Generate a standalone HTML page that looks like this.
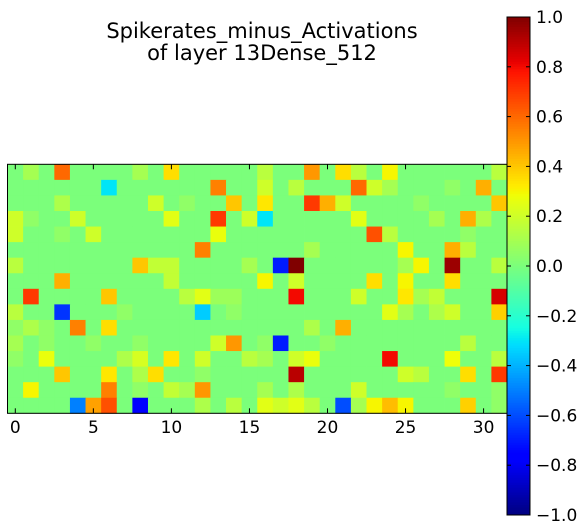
<!DOCTYPE html>
<html><head><meta charset="utf-8"><style>
body{margin:0;background:#fff;}
svg{display:block;font-family:"DejaVu Sans","Liberation Sans",sans-serif;}
</style></head><body>
<svg id="chart" width="587" height="532" viewBox="0 0 587 532" xmlns="http://www.w3.org/2000/svg">
<text x="262" y="38" font-size="21" text-anchor="middle">Spikerates_minus_Activations</text>
<text x="262" y="60" font-size="21" text-anchor="middle">of layer 13Dense_512</text>
<g id="cells"></g>
<g id="xaxis"></g>
<rect x="7.5" y="164.3" width="499.5" height="249" fill="none" stroke="#000" stroke-width="1"/>
<g id="cbar"></g>
</svg>
<script>
const nRows = 16, nCols = 32;
const xTicks = [0,5,10,15,20,25,30];
const cbTicks = [1.0,0.8,0.6,0.4,0.2,0.0,-0.2,-0.4,-0.6,-0.8,-1.0];
const cbTickLabels = ["1.0","0.8","0.6","0.4","0.2","0.0","\u22120.2","\u22120.4","\u22120.6","\u22120.8","\u22121.0"];
// sparse nonzero cells: [row, col, value]
const cellValues = [
[0,1,0.1],[0,3,0.6],[0,8,0.1],[0,10,0.35],[0,16,0.15],[0,19,0.5],[0,21,0.35],[0,22,0.15],[0,24,0.3],[0,31,0.15],
[1,6,-0.3],[1,13,0.55],[1,16,0.2],[1,18,0.15],[1,22,0.6],[1,23,0.2],[1,24,0.1],[1,28,0.05],[1,30,0.45],
[2,3,0.12],[2,9,0.2],[2,11,0.05],[2,14,0.4],[2,16,0.33],[2,19,0.7],[2,20,0.45],[2,21,0.2],[2,26,0.05],[2,31,0.4],
[3,0,0.2],[3,1,0.05],[3,4,0.2],[3,10,0.25],[3,13,0.7],[3,15,0.2],[3,16,-0.3],[3,22,0.25],[3,27,0.1],[3,29,0.45],[3,30,0.12],
[4,0,0.2],[4,3,0.05],[4,5,0.2],[4,13,0.27],[4,23,0.65],[4,24,0.15],[4,29,0.05],
[5,12,0.55],[5,19,0.1],[5,25,0.3],[5,28,0.45],[5,29,0.15],
[6,0,0.15],[6,8,0.4],[6,9,0.17],[6,10,0.17],[6,15,0.1],[6,17,-0.7],[6,18,1.0],[6,25,0.1],[6,26,0.3],[6,28,0.95],[6,31,0.15],
[7,3,0.45],[7,10,0.17],[7,16,0.3],[7,18,0.2],[7,23,0.35],[7,25,0.3],[7,28,0.35],
[8,1,0.7],[8,6,0.4],[8,11,0.15],[8,12,0.25],[8,13,0.08],[8,14,0.08],[8,18,0.8],[8,22,0.2],[8,25,0.33],[8,26,0.1],[8,27,0.17],[8,31,0.85],
[9,0,0.15],[9,3,-0.65],[9,7,0.05],[9,12,-0.35],[9,14,0.05],[9,24,0.25],[9,25,0.1],[9,27,0.12],[9,28,0.2],[9,31,0.38],
[10,0,0.05],[10,1,0.12],[10,2,0.05],[10,4,0.55],[10,6,0.35],[10,19,0.12],[10,21,0.45],
[11,0,0.1],[11,2,0.05],[11,5,0.05],[11,8,0.05],[11,13,0.2],[11,14,0.5],[11,16,0.05],[11,17,-0.7],[11,20,0.05],[11,29,0.15],
[12,0,0.05],[12,2,0.27],[12,7,0.12],[12,8,0.22],[12,10,0.33],[12,12,0.2],[12,15,0.15],[12,16,0.1],[12,18,0.2],[12,19,0.27],[12,24,0.8],[12,28,0.28],[12,31,0.15],
[13,3,0.4],[13,6,0.33],[13,8,0.12],[13,9,0.35],[13,12,0.05],[13,18,0.9],[13,25,0.2],[13,26,0.15],[13,29,0.35],[13,31,0.7],
[14,1,0.3],[14,6,0.55],[14,8,0.05],[14,10,0.17],[14,11,0.1],[14,12,0.5],[14,16,0.1],[14,18,0.12],[14,22,0.2],[14,28,0.05],[14,31,0.05],
[15,4,-0.5],[15,5,0.48],[15,6,0.65],[15,8,-0.75],[15,12,0.12],[15,14,0.15],[15,16,0.25],[15,17,0.2],[15,18,0.25],[15,19,0.15],[15,21,-0.6],[15,22,0.1],[15,23,0.3],[15,24,0.42],[15,25,0.3],[15,29,0.38],[15,31,0.05]
];
const NS="http://www.w3.org/2000/svg";
const X0=7.5,Y0=164.3,W=499.5,H=249;
const cw=W/nCols, ch=H/nRows;
const xs=c=>X0+c*cw, ys=r=>Y0+r*ch;
function interp(pts,t){for(let i=1;i<pts.length;i++){if(t<=pts[i][0]){const a=pts[i-1],b=pts[i];return a[1]+(b[1]-a[1])*(t-a[0])/(b[0]-a[0]);}}return pts[pts.length-1][1];}
const R=[[0,0],[0.35,0],[0.66,1],[0.89,1],[1,0.5]];
const G=[[0,0],[0.125,0],[0.375,1],[0.64,1],[0.91,0],[1,0]];
const B=[[0,0.5],[0.11,1],[0.34,1],[0.65,0],[1,0]];
function jet(v){const t=Math.max(0,Math.min(1,(v+1)/2));return `rgb(${Math.round(255*interp(R,t))},${Math.round(255*interp(G,t))},${Math.round(255*interp(B,t))})`;}
const grid=[];for(let r=0;r<nRows;r++){grid.push(new Array(nCols).fill(0));}
cellValues.forEach(([r,c,v])=>{grid[r][c]=v;});
const cells=document.getElementById('cells');
for(let r=0;r<nRows;r++)for(let c=0;c<nCols;c++){
 const e=document.createElementNS(NS,'rect');
 e.setAttribute('x',xs(c));e.setAttribute('y',ys(r));
 e.setAttribute('width',cw+0.4);e.setAttribute('height',ch+0.4);
 e.setAttribute('fill',jet(grid[r][c]));
 
 
 cells.appendChild(e);
}
const xa=document.getElementById('xaxis');
xTicks.forEach(t=>{
 const x=xs(t)+cw/2;
 [[Y0,Y0+5],[Y0+H,Y0+H-5]].forEach(([a,b])=>{const l=document.createElementNS(NS,'line');
 l.setAttribute('x1',x);l.setAttribute('x2',x);l.setAttribute('y1',a);l.setAttribute('y2',b);l.setAttribute('stroke','#000');
 
 
 xa.appendChild(l);});
 const tx=document.createElementNS(NS,'text');
 tx.setAttribute('x',x);tx.setAttribute('y',433);tx.setAttribute('font-size','17');tx.setAttribute('text-anchor','middle');
 tx.textContent=t;
 
 
 xa.appendChild(tx);
});
const cb=document.getElementById('cbar');
const CX=507,CY=17,CW=23,CH=498,N=200;
for(let i=0;i<N;i++){const v=1-2*(i+0.5)/N;const e=document.createElementNS(NS,'rect');
 e.setAttribute('x',CX);e.setAttribute('y',CY+i*CH/N);e.setAttribute('width',CW);e.setAttribute('height',CH/N+0.5);e.setAttribute('fill',jet(v));
 
 
 cb.appendChild(e);}
const fr=document.createElementNS(NS,'rect');
fr.setAttribute('x',CX);fr.setAttribute('y',CY);fr.setAttribute('width',CW);fr.setAttribute('height',CH);fr.setAttribute('fill','none');fr.setAttribute('stroke','#000');


cb.appendChild(fr);
cbTicks.forEach((v,i)=>{const y=CY+(1-v)/2*CH;
 [[CX,CX+4],[CX+CW,CX+CW-4]].forEach(([a,b])=>{const l=document.createElementNS(NS,'line');
 l.setAttribute('x1',a);l.setAttribute('x2',b);l.setAttribute('y1',y);l.setAttribute('y2',y);l.setAttribute('stroke','#000');
 
 
 cb.appendChild(l);});
 const t=document.createElementNS(NS,'text');
 t.setAttribute('x',536);t.setAttribute('y',y+6);t.setAttribute('font-size','17');
 t.textContent=cbTickLabels[i];
 
 
 cb.appendChild(t);
});
</script>
</body></html>
